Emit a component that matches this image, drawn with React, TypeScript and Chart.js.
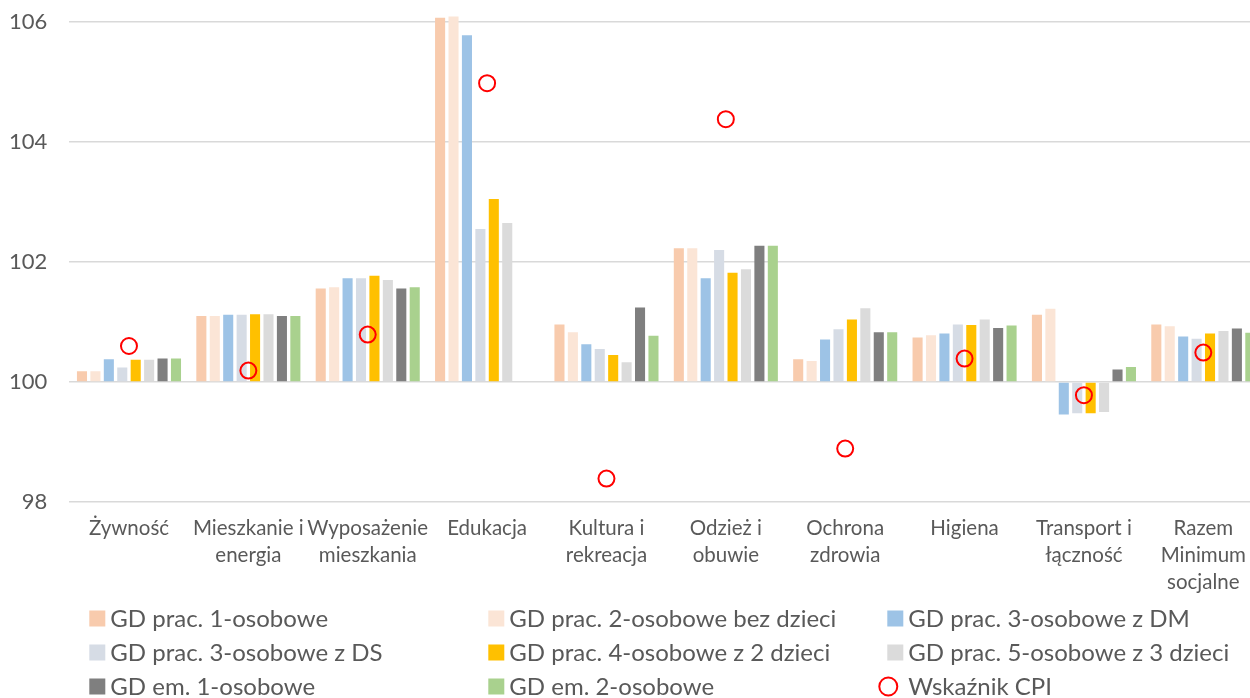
import React, { useEffect, useRef } from "react";
import { Chart, registerables } from "chart.js";

Chart.register(...registerables);

const categories: (string | string[])[] = [
  "Żywność",
  ["Mieszkanie i", "energia"],
  ["Wyposażenie", "mieszkania"],
  "Edukacja",
  ["Kultura i", "rekreacja"],
  ["Odzież i", "obuwie"],
  ["Ochrona", "zdrowia"],
  "Higiena",
  ["Transport i", "łączność"],
  ["Razem", "Minimum", "socjalne"],
];

const seriesNames = [
  "GD prac. 1-osobowe",
  "GD prac. 2-osobowe bez dzieci",
  "GD prac. 3-osobowe z DM",
  "GD prac. 3-osobowe z DS",
  "GD prac. 4-osobowe z 2 dzieci",
  "GD prac. 5-osobowe z 3 dzieci",
  "GD em. 1-osobowe",
  "GD em. 2-osobowe",
];
const cpiName = "Wskaźnik CPI";

const prac1 = [100.18, 101.1, 101.56, 106.07, 100.96, 102.23, 100.38, 100.74, 101.12, 100.96];
const prac2 = [100.18, 101.1, 101.58, 106.09, 100.83, 102.23, 100.35, 100.78, 101.22, 100.93];
const prac3DM = [100.38, 101.12, 101.73, 105.78, 100.63, 101.73, 100.71, 100.81, 99.46, 100.76];
const prac3DS = [100.24, 101.12, 101.73, 102.55, 100.55, 102.2, 100.88, 100.96, 99.48, 100.72];
const prac4 = [100.37, 101.13, 101.77, 103.05, 100.45, 101.82, 101.04, 100.95, 99.48, 100.81];
const prac5 = [100.37, 101.13, 101.7, 102.65, 100.33, 101.88, 101.23, 101.04, 99.5, 100.85];
const em1 = [100.39, 101.1, 101.56, null, 101.24, 102.27, 100.83, 100.9, 100.21, 100.89];
const em2 = [100.39, 101.1, 101.58, null, 100.77, 102.27, 100.83, 100.94, 100.25, 100.82];
const cpi = [100.6, 100.19, 100.79, 104.98, 98.39, 104.38, 98.89, 100.39, 99.78, 100.49];

const yTicks = [98, 100, 102, 104, 106];

const barColors = ["#F8CBAD", "#FBE5D6", "#9DC3E6", "#D6DCE5", "#FFC000", "#DBDBDB", "#7F7F7F", "#A9D18E"];
const cpiColor = "#FF0000";
const textColor = "#595959";
const fontFamily = "Lato, 'Open Sans', sans-serif";

const legendPlugin = {
  id: "gridLegend",
  afterDraw(chart: any) {
    const ctx = chart.ctx;
    const area = chart.chartArea;
    const colW = 399;
    const startX = area.left + 20;
    const startY = area.bottom + 116.5;
    const rowH = 34;
    ctx.save();
    ctx.font = `24px ${fontFamily}`;
    ctx.textBaseline = "middle";
    ctx.textAlign = "left";
    chart.data.datasets.forEach((ds: any, i: number) => {
      const col = i % 3;
      const row = Math.floor(i / 3);
      const x = startX + col * colW;
      const y = startY + row * rowH;
      if (ds.type === "line") {
        ctx.beginPath();
        ctx.arc(x + 1, y, 9, 0, Math.PI * 2);
        ctx.lineWidth = 2;
        ctx.strokeStyle = ds.pointBorderColor;
        ctx.stroke();
      } else {
        ctx.fillStyle = ds.backgroundColor;
        ctx.fillRect(x, y - 8, 16, 16);
      }
      ctx.fillStyle = textColor;
      ctx.fillText(ds.label, x + 21, y + 1);
    });
    ctx.restore();
  },
};

export default function App() {
  const ref = useRef<HTMLCanvasElement | null>(null);

  useEffect(() => {
    if (!ref.current) return;
    const values = [prac1, prac2, prac3DM, prac3DS, prac4, prac5, em1, em2];
    const datasets: any[] = values.map((v, i) => ({
      type: "bar",
      label: seriesNames[i],
      data: v,
      backgroundColor: barColors[i],
      borderWidth: 0,
      base: 100,
      categoryPercentage: 0.9,
      barPercentage: 0.75,
    }));
    datasets.push({
      type: "line",
      label: cpiName,
      data: cpi,
      showLine: false,
      pointRadius: 8,
      pointHoverRadius: 8,
      pointBorderWidth: 2,
      pointBorderColor: cpiColor,
      pointBackgroundColor: "rgba(0,0,0,0)",
      order: -1,
    });

    const chart = new Chart(ref.current, {
      type: "bar",
      data: { labels: categories as any, datasets },
      options: {
        responsive: false,
        animation: false,
        layout: { padding: { top: 13, right: 17, left: 0, bottom: 0 } },
        plugins: { legend: { display: false }, tooltip: { enabled: false } },
        scales: {
          x: {
            grid: { display: false, drawTicks: false },
            border: { display: false },
            ticks: {
              color: textColor,
              font: { family: fontFamily, size: 20.5, lineHeight: 1.32 },
              padding: 12.5,
              maxRotation: 0,
              autoSkip: false,
            },
            afterFit: (s: any) => {
              s.height = 196;
              s.paddingLeft = 0;
              s.paddingRight = 0;
            },
          },
          y: {
            min: 98,
            max: 106.15,
            afterBuildTicks: (s: any) => {
              s.ticks = yTicks.map((v) => ({ value: v }));
            },
            grid: { color: "#D9D9D9", lineWidth: 1.5, drawTicks: false },
            border: { display: false },
            ticks: {
              color: textColor,
              font: { family: fontFamily, size: 22 },
              padding: 22,
            },
            afterFit: (s: any) => {
              s.width = 69.3;
              s.paddingTop = 0;
              s.paddingBottom = 0;
            },
          },
        },
      } as any,
      plugins: [legendPlugin],
    });
    return () => chart.destroy();
  }, []);

  return (
    <div
      style={{
        position: "fixed",
        left: 0,
        top: 0,
        width: 1250,
        height: 698,
        overflow: "hidden",
        background: "#fff",
      }}
    >
      <canvas ref={ref} width={1280} height={698} style={{ display: "block", width: 1280, height: 698 }} />
    </div>
  );
}
